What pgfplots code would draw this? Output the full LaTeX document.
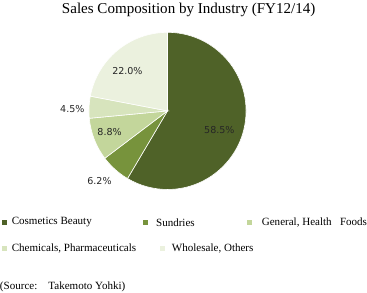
\documentclass[border=0pt]{standalone}
\usepackage{pgfplots}
\pgfplotsset{compat=1.18}
\usepackage{fontspec}
\setmainfont{Liberation Serif}
\newfontfamily\labfont{DejaVu Sans}
\definecolor{cA}{HTML}{4F6228}
\definecolor{cB}{HTML}{77933C}
\definecolor{cC}{HTML}{C3D69B}
\definecolor{cD}{HTML}{D7E4BD}
\definecolor{cE}{HTML}{EBF1DE}
\definecolor{labc}{HTML}{262626}
\begin{document}
\begin{tikzpicture}
\begin{axis}[x=1bp,y=1bp,xmin=0,xmax=367,ymin=0,ymax=292,hide axis,clip=false]
% values (%): 58.5, 6.2, 8.8, 4.5, 22.0 ; clockwise from 12 o'clock
\fill[cA,draw=white,line width=0.6pt] (axis cs:166.5,181) -- ++(90:78bp) arc[start angle=90, end angle={90-3.6*58.5}, radius=78bp] -- cycle;
\fill[cB,draw=white,line width=0.6pt] (axis cs:166.5,181) -- ++({90-3.6*58.5}:78bp) arc[start angle={90-3.6*58.5}, end angle={90-3.6*64.7}, radius=78bp] -- cycle;
\fill[cC,draw=white,line width=0.6pt] (axis cs:166.5,181) -- ++({90-3.6*64.7}:78bp) arc[start angle={90-3.6*64.7}, end angle={90-3.6*73.5}, radius=78bp] -- cycle;
\fill[cD,draw=white,line width=0.6pt] (axis cs:166.5,181) -- ++({90-3.6*73.5}:78bp) arc[start angle={90-3.6*73.5}, end angle={90-3.6*78.0}, radius=78bp] -- cycle;
\fill[cE,draw=white,line width=0.6pt] (axis cs:166.5,181) -- ++({90-3.6*78.0}:78bp) arc[start angle={90-3.6*78.0}, end angle={90-3.6*100}, radius=78bp] -- cycle;
% labels
\tikzset{lab/.style={text=labc,font=\labfont\fontsize{9.5}{11}\selectfont}}
\node[lab] at (axis cs:218,162) {58.5\%};
\node[lab] at (axis cs:99,111) {6.2\%};
\node[lab] at (axis cs:109,160) {8.8\%};
\node[lab] at (axis cs:72,183) {4.5\%};
\node[lab] at (axis cs:126.7,220.3) {22.0\%};
% title
\node[font=\fontsize{15}{17}\selectfont] at (axis cs:187.5,281) {Sales Composition by Industry (FY12/14)};
% legend
\fill[cA] (axis cs:1.7,67.8) rectangle (axis cs:6.7,72.8);
\node[anchor=west,inner sep=0pt,font=\fontsize{11}{12}\selectfont] at (axis cs:11.7,70.3) {Cosmetics Beauty};
\fill[cB] (axis cs:141.7,67.8) rectangle (axis cs:146.7,72.8);
\node[anchor=west,inner sep=0pt,font=\fontsize{11}{12}\selectfont] at (axis cs:155,70.3) {Sundries};
\fill[cC] (axis cs:245.7,67.8) rectangle (axis cs:250.7,72.8);
\node[anchor=west,inner sep=0pt,font=\fontsize{11}{12}\selectfont] at (axis cs:260,70.3) {General, Health\ \ \ Foods};
\fill[cD] (axis cs:1.7,41.8) rectangle (axis cs:6.7,46.8);
\node[anchor=west,inner sep=0pt,font=\fontsize{11}{12}\selectfont] at (axis cs:11.7,44.3) {Chemicals, Pharmaceuticals};
\fill[cE] (axis cs:159,41.8) rectangle (axis cs:164,46.8);
\node[anchor=west,inner sep=0pt,font=\fontsize{11}{12}\selectfont] at (axis cs:170.7,44.3) {Wholesale, Others};
\node[anchor=west,inner sep=0pt,font=\fontsize{11}{12}\selectfont] at (axis cs:0,6) {(Source:\ \ \ \ Takemoto Yohki)};
\end{axis}
\end{tikzpicture}
\end{document}
